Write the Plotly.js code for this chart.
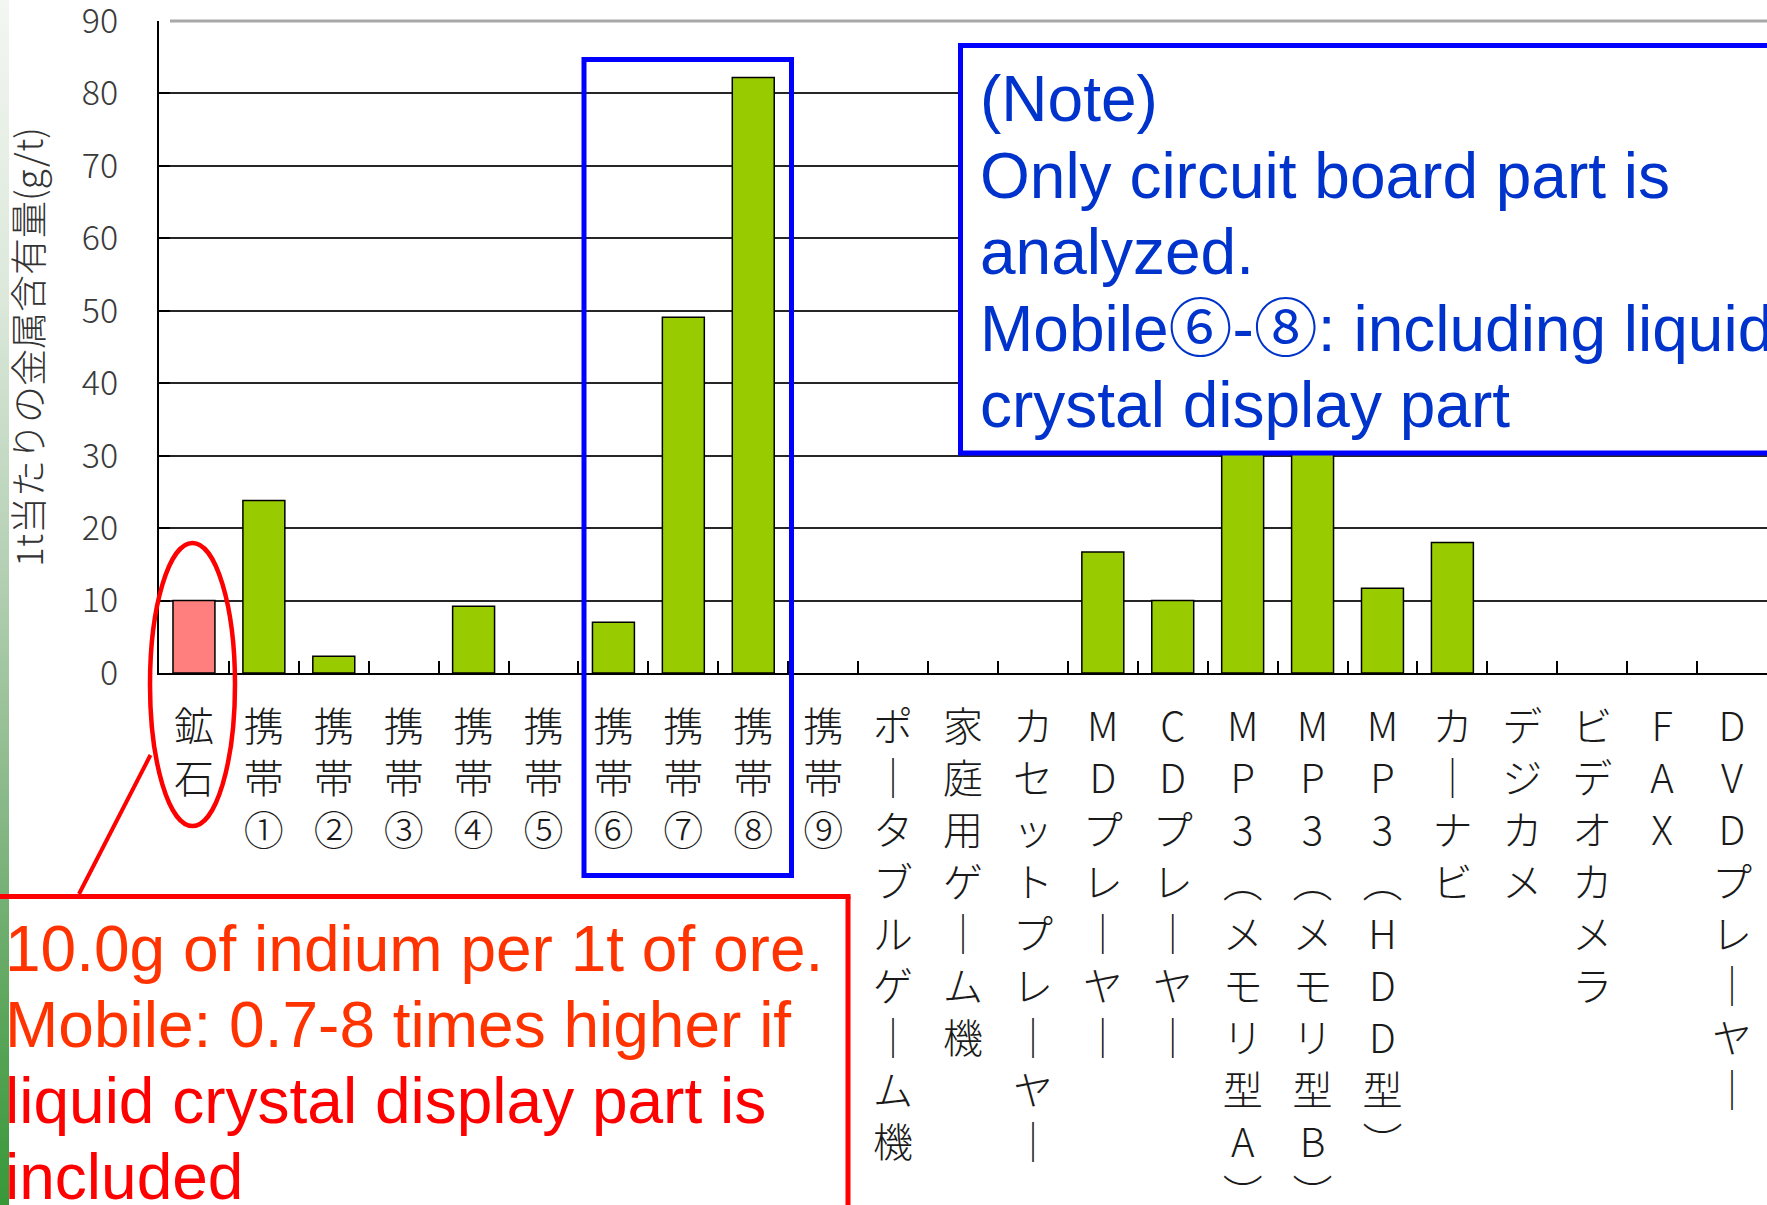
<!DOCTYPE html>
<html>
<head>
<meta charset="utf-8">
<script src="https://cdn.plot.ly/plotly-3.0.1.min.js"></script>
<style>
  html, body { margin: 0; padding: 0; background: #ffffff; }
  #wrap { position: relative; width: 1767px; height: 1205px; overflow: hidden; }
  #edge { position: absolute; left: 0; top: 0; width: 9px; height: 1205px;
          background: linear-gradient(to bottom, #f3f6f2 0%, #dbe8da 25%, #b3cfb2 48%, #86b785 68%, #5aa55a 85%, #389838 100%); }
  #chart { position: absolute; left: 0; top: 0; width: 1767px; height: 1205px; }
</style>
</head>
<body>
<div id="wrap">
  <div id="edge"></div>
  <div id="chart"></div>
</div>
<script>
// Indium content per tonne of material (g/t)
const categories = [
  '鉱石', '携帯①', '携帯②', '携帯③', '携帯④', '携帯⑤', '携帯⑥', '携帯⑦', '携帯⑧', '携帯⑨',
  'ポータブルゲーム機', '家庭用ゲーム機', 'カセットプレーヤー', 'MDプレーヤー', 'CDプレーヤー',
  'MP3（メモリ型A）', 'MP3（メモリ型B）', 'MP3（HDD型）', 'カーナビ', 'デジカメ',
  'ビデオカメラ', 'FAX', 'DVDプレーヤー'
];
const indium = [
  10, 23.8, 2.3, 0, 9.2, 0, 7.0, 49.1, 82.2, 0,
  0, 0, 0, 16.7, 10.0,
  40, 36, 11.7, 18.0, 0,
  0, 0, 0
];
const yTicks = [0, 10, 20, 30, 40, 50, 60, 70, 80, 90];
const yTitle = '1t当たりの金属含有量(g/t)';
const noteLines = ['(Note)', 'Only circuit board part is', 'analyzed.',
                   'Mobile⑥-⑧: including liquid', 'crystal display part'];
const oreLines = ['10.0g of indium per 1t of ore.', 'Mobile: 0.7-8 times higher if',
                  'liquid crystal display part is', 'included'];

// Category names are written top-to-bottom, one character per line
const verticalForms = { 'ー': '｜', '（': '︵', '）': '︶' };
const toVertical = s => Array.from(s).map(c => verticalForms[c] || c).join('<br>');
// Circled digits are taken from the CJK face so they keep their full size
const CIRCLED = /[①-⑨]/g;
const circled = s => s.replace(CIRCLED, d => '<span style="font-family:\'Noto Sans CJK JP\'">' + d + '</span>');

// Page geometry (pixels) of the plotting area
const W = 1767, H = 1205, L = 159, T = 21, B = 673, R = 1767;
const PW = R - L, PH = B - T;
const px = x => (x - L) / PW;
const py = y => (B - y) / PH;

const GREEN = '#99cc00', PINK = '#ff7f7f';
const BLUE = '#0000ff', NOTE_TEXT = '#0033cc', RED = '#ff0000', ORANGE_RED = '#ff3300';

const trace = {
  type: 'bar',
  x: categories,
  y: indium,
  marker: {
    color: categories.map((c, i) => i === 0 ? PINK : GREEN),
    line: { color: '#000000', width: indium.map(v => v > 0 ? 1.5 : 0) }
  },
  hoverinfo: 'x+y'
};

const shapes = [
  // light frame line along the top of the plotting area
  { type: 'line', xref: 'paper', yref: 'paper', x0: px(170), x1: 1, y0: 1, y1: 1,
    line: { color: '#a8a8a8', width: 3 }, layer: 'above' },
  // frame around mobile phones 6-8
  { type: 'rect', xref: 'paper', yref: 'paper', x0: px(584), x1: px(791.5), y0: py(875.5), y1: py(59.5),
    line: { color: BLUE, width: 5 }, fillcolor: 'rgba(0,0,0,0)', layer: 'above' },
  // note panel
  { type: 'rect', xref: 'paper', yref: 'paper', x0: px(960.5), x1: px(1800), y0: py(453), y1: py(45.5),
    line: { color: BLUE, width: 5 }, fillcolor: '#ffffff', layer: 'above' },
  // ellipse around the ore bar
  { type: 'circle', xref: 'paper', yref: 'paper', x0: px(150), x1: px(235), y0: py(826), y1: py(543),
    line: { color: RED, width: 4.5 }, layer: 'above' },
  // leader from the ellipse to the ore note
  { type: 'line', xref: 'paper', yref: 'paper', x0: px(150.5), y0: py(755), x1: px(79), y1: py(894),
    line: { color: RED, width: 4 }, layer: 'above' },
  // ore note panel: white body, red top and right edges
  { type: 'rect', xref: 'paper', yref: 'paper', x0: px(9.5), x1: px(848), y0: py(1240), y1: py(896.5),
    line: { width: 0 }, fillcolor: '#ffffff', layer: 'above' },
  { type: 'line', xref: 'paper', yref: 'paper', x0: px(0), x1: px(850.5), y0: py(896.5), y1: py(896.5),
    line: { color: RED, width: 5 }, layer: 'above' },
  { type: 'line', xref: 'paper', yref: 'paper', x0: px(848), x1: px(848), y0: py(896.5), y1: py(1240),
    line: { color: RED, width: 5 }, layer: 'above' }
];

const noteBaselines = [121, 197.5, 274, 350.5, 427];
const oreBaselines = [971, 1047, 1122.5, 1199];
const annotations = [];
noteLines.forEach((t, i) => {
  // a line holding CJK glyphs gets a taller text box, so its top sits higher
  const ascent = /[①-⑨]/.test(t) ? 76 : 60;
  annotations.push({
    xref: 'paper', yref: 'paper', x: px(978), y: py(noteBaselines[i] - ascent),
    xanchor: 'left', yanchor: 'top', showarrow: false, text: circled(t), align: 'left',
    font: { family: 'Liberation Sans, Arial, sans-serif', size: 64, color: NOTE_TEXT }
  });
});
oreLines.forEach((t, i) => annotations.push({
  xref: 'paper', yref: 'paper', x: px(3), y: py(oreBaselines[i] - 60),
  xanchor: 'left', yanchor: 'top', showarrow: false, text: t, align: 'left',
  font: { family: 'Liberation Sans, Arial, sans-serif', size: 64, color: i < 2 ? ORANGE_RED : RED }
}));

const layout = {
  width: W, height: H,
  margin: { l: L, r: W - R, t: T, b: H - B, pad: 0 },
  paper_bgcolor: 'rgba(0,0,0,0)',
  plot_bgcolor: '#ffffff',
  showlegend: false,
  bargap: 0.4,
  font: { family: 'Noto Sans CJK JP, sans-serif', color: '#333333' },
  xaxis: {
    type: 'category',
    range: [-0.5, categories.length - 0.5],
    tickmode: 'array',
    tickvals: categories,
    ticktext: categories.map(toVertical),
    tickangle: 0,
    tickfont: { family: 'Noto Sans CJK JP, sans-serif', size: 40, color: '#1a1a1a', weight: 300 },
    ticks: 'inside', ticklen: 12, tickwidth: 2, tickcolor: '#000000',
    tickson: 'boundaries',
    ticklabelstandoff: 18,
    ticklabeloverflow: 'allow',
    showline: true, linecolor: '#000000', linewidth: 2,
    showgrid: false, zeroline: false,
    automargin: false, fixedrange: true
  },
  yaxis: {
    range: [0, 90],
    tickmode: 'array',
    tickvals: yTicks,
    tickfont: { family: 'Noto Sans CJK JP, sans-serif', size: 34, color: '#3a3a3a', weight: 300 },
    ticks: 'inside', ticklen: 11, tickwidth: 2, tickcolor: '#000000',
    ticklabelstandoff: 32,
    ticklabeloverflow: 'allow',
    showline: true, linecolor: '#000000', linewidth: 2,
    showgrid: true, gridcolor: '#262626', gridwidth: 2,
    zeroline: false,
    title: { text: yTitle, standoff: 33,
             font: { family: 'Noto Sans CJK JP, sans-serif', size: 37, color: '#333333', weight: 300 } },
    automargin: false, fixedrange: true
  },
  shapes: shapes,
  annotations: annotations
};

Plotly.newPlot('chart', [trace], layout, { staticPlot: true, displayModeBar: false });
</script>
</body>
</html>
